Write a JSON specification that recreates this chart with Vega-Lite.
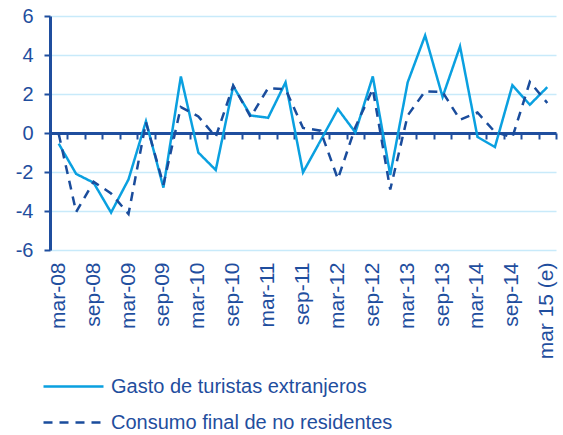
{
  "$schema": "https://vega.github.io/schema/vega-lite/v6.json",
  "width": 506,
  "height": 234,
  "autosize": {"type": "none"},
  "padding": {"left": 50, "top": 16, "right": 7, "bottom": 185},
  "background": "white",
  "data": {"values": [
    {"q": "mar-08", "s": "Gasto de turistas extranjeros", "v": -0.55},
    {"q": "jun-08", "s": "Gasto de turistas extranjeros", "v": -2.1},
    {"q": "sep-08", "s": "Gasto de turistas extranjeros", "v": -2.55},
    {"q": "dic-08", "s": "Gasto de turistas extranjeros", "v": -4.08},
    {"q": "mar-09", "s": "Gasto de turistas extranjeros", "v": -2.38},
    {"q": "jun-09", "s": "Gasto de turistas extranjeros", "v": 0.6},
    {"q": "sep-09", "s": "Gasto de turistas extranjeros", "v": -2.8},
    {"q": "dic-09", "s": "Gasto de turistas extranjeros", "v": 2.9},
    {"q": "mar-10", "s": "Gasto de turistas extranjeros", "v": -1.0},
    {"q": "jun-10", "s": "Gasto de turistas extranjeros", "v": -1.9},
    {"q": "sep-10", "s": "Gasto de turistas extranjeros", "v": 2.4},
    {"q": "dic-10", "s": "Gasto de turistas extranjeros", "v": 0.9},
    {"q": "mar-11", "s": "Gasto de turistas extranjeros", "v": 0.78},
    {"q": "jun-11", "s": "Gasto de turistas extranjeros", "v": 2.6},
    {"q": "sep-11", "s": "Gasto de turistas extranjeros", "v": -2.02},
    {"q": "dic-11", "s": "Gasto de turistas extranjeros", "v": -0.4},
    {"q": "mar-12", "s": "Gasto de turistas extranjeros", "v": 1.23},
    {"q": "jun-12", "s": "Gasto de turistas extranjeros", "v": 0.03},
    {"q": "sep-12", "s": "Gasto de turistas extranjeros", "v": 2.9},
    {"q": "dic-12", "s": "Gasto de turistas extranjeros", "v": -2.15},
    {"q": "mar-13", "s": "Gasto de turistas extranjeros", "v": 2.6},
    {"q": "jun-13", "s": "Gasto de turistas extranjeros", "v": 5.0},
    {"q": "sep-13", "s": "Gasto de turistas extranjeros", "v": 1.85},
    {"q": "dic-13", "s": "Gasto de turistas extranjeros", "v": 4.44},
    {"q": "mar-14", "s": "Gasto de turistas extranjeros", "v": -0.2},
    {"q": "jun-14", "s": "Gasto de turistas extranjeros", "v": -0.72},
    {"q": "sep-14", "s": "Gasto de turistas extranjeros", "v": 2.45},
    {"q": "dic-14", "s": "Gasto de turistas extranjeros", "v": 1.45},
    {"q": "mar 15 (e)", "s": "Gasto de turistas extranjeros", "v": 2.35},
    {"q": "mar-08", "s": "Consumo final de no residentes", "v": -0.05},
    {"q": "jun-08", "s": "Consumo final de no residentes", "v": -4.05},
    {"q": "sep-08", "s": "Consumo final de no residentes", "v": -2.5},
    {"q": "dic-08", "s": "Consumo final de no residentes", "v": -3.1},
    {"q": "mar-09", "s": "Consumo final de no residentes", "v": -4.15},
    {"q": "jun-09", "s": "Consumo final de no residentes", "v": 0.55},
    {"q": "sep-09", "s": "Consumo final de no residentes", "v": -2.65},
    {"q": "dic-09", "s": "Consumo final de no residentes", "v": 1.33},
    {"q": "mar-10", "s": "Consumo final de no residentes", "v": 0.85},
    {"q": "jun-10", "s": "Consumo final de no residentes", "v": -0.2},
    {"q": "sep-10", "s": "Consumo final de no residentes", "v": 2.43},
    {"q": "dic-10", "s": "Consumo final de no residentes", "v": 0.82},
    {"q": "mar-11", "s": "Consumo final de no residentes", "v": 2.3},
    {"q": "jun-11", "s": "Consumo final de no residentes", "v": 2.25},
    {"q": "sep-11", "s": "Consumo final de no residentes", "v": 0.26},
    {"q": "dic-11", "s": "Consumo final de no residentes", "v": 0.12},
    {"q": "mar-12", "s": "Consumo final de no residentes", "v": -2.36},
    {"q": "jun-12", "s": "Consumo final de no residentes", "v": 0.3},
    {"q": "sep-12", "s": "Consumo final de no residentes", "v": 2.26},
    {"q": "dic-12", "s": "Consumo final de no residentes", "v": -2.9},
    {"q": "mar-13", "s": "Consumo final de no residentes", "v": 0.9},
    {"q": "jun-13", "s": "Consumo final de no residentes", "v": 2.14},
    {"q": "sep-13", "s": "Consumo final de no residentes", "v": 2.1},
    {"q": "dic-13", "s": "Consumo final de no residentes", "v": 0.68},
    {"q": "mar-14", "s": "Consumo final de no residentes", "v": 1.05},
    {"q": "jun-14", "s": "Consumo final de no residentes", "v": 0.05},
    {"q": "sep-14", "s": "Consumo final de no residentes", "v": -0.22},
    {"q": "dic-14", "s": "Consumo final de no residentes", "v": 2.62},
    {"q": "mar 15 (e)", "s": "Consumo final de no residentes", "v": 1.54}
  ]},
  "layer": [
    {
      "mark": {"type": "line", "strokeWidth": 2.5, "opacity": 0},
      "encoding": {
        "x": {"field": "q", "type": "ordinal", "sort": null,
          "scale": {"paddingInner": 0, "paddingOuter": 0},
          "axis": {"orient": "bottom", "offset": -117, "title": null, "labels": false,
            "domain": true, "domainColor": "#1f4e9e", "domainWidth": 3,
            "ticks": true, "tickBand": "extent", "tickColor": "#1f4e9e", "tickWidth": 2, "tickSize": 6, "grid": false}},
        "y": {"field": "v", "type": "quantitative",
          "scale": {"domain": [-6, 6], "nice": false},
          "axis": {"values": [-6, -4, -2, 0, 2, 4, 6], "title": null, "domainColor": "#1f4e9e", "domainWidth": 3,
            "tickColor": "#1f4e9e", "tickWidth": 2, "tickSize": 6, "labelPadding": 11,
            "labelOverlap": false, "labelBound": false, "labelFlush": false,
            "labelExpr": "datum.value < 0 ? '-' + abs(datum.value) : '' + datum.value",
            "labelFontSize": 20, "labelColor": "#1f4e9e", "labelFont": "Liberation Sans",
            "gridColor": "#c8eafa", "gridWidth": 1.5}}
      }
    },
    {
      "mark": {"type": "line", "strokeWidth": 2.5},
      "encoding": {
        "x": {"field": "q", "type": "ordinal", "sort": null,
          "scale": {"paddingInner": 0, "paddingOuter": 0},
          "axis": {"orient": "bottom", "title": null, "domain": false, "ticks": false, "grid": false,
            "labelAngle": -90, "labelPadding": 12, "labelFontSize": 21, "labelColor": "#1f4e9e",
            "labelFont": "Liberation Sans", "labelOverlap": false,
            "labelExpr": "test(/^(mar|sep)/, datum.label) ? datum.label : ''"}},
        "y": {"field": "v", "type": "quantitative",
          "scale": {"domain": [-6, 6], "nice": false},
          "axis": {"values": [-6, -4, -2, 0, 2, 4, 6], "title": null, "domainColor": "#1f4e9e", "domainWidth": 3,
            "tickColor": "#1f4e9e", "tickWidth": 2, "tickSize": 6, "labelPadding": 11,
            "labelOverlap": false, "labelBound": false, "labelFlush": false,
            "labelExpr": "datum.value < 0 ? '-' + abs(datum.value) : '' + datum.value",
            "labelFontSize": 20, "labelColor": "#1f4e9e", "labelFont": "Liberation Sans",
            "gridColor": "#c8eafa", "gridWidth": 1.5}},
        "color": {"field": "s", "type": "nominal", "title": null,
          "scale": {"domain": ["Gasto de turistas extranjeros", "Consumo final de no residentes"], "range": ["#0aa0e0", "#1a4c9c"]}},
        "strokeDash": {"field": "s", "type": "nominal", "title": null,
          "scale": {"domain": ["Gasto de turistas extranjeros", "Consumo final de no residentes"], "range": [[1, 0], [9, 7]]}}
      }
    }
  ],
  "resolve": {"axis": {"x": "independent"}},
  "config": {
    "view": {"stroke": null},
    "legend": {
      "orient": "none", "legendX": 12, "legendY": 359, "direction": "vertical",
      "symbolType": "M-3,0H3", "symbolSize": 400, "symbolStrokeWidth": 2.5,
      "labelFontSize": 20, "labelFont": "Liberation Sans", "labelColor": "#1f4e9e",
      "labelOffset": 26, "rowPadding": 14, "labelLimit": 400
    }
  }
}
